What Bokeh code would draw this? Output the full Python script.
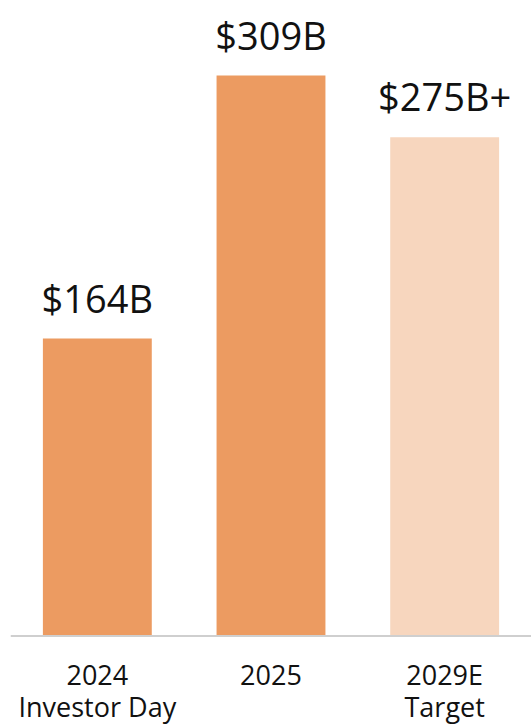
from bokeh.plotting import figure
from bokeh.models import ColumnDataSource, FactorRange, Range1d, Span
from bokeh.core.properties import value
from bokeh.embed import file_html
from bokeh.resources import INLINE

categories = ["2024 Investor Day", "2025", "2029E Target"]
tick_line1 = ["2024", "2025", "2029E"]
tick_line2 = ["Investor Day", "", "Target"]
values = [164, 309, 275]
labels = ["$164B", "$309B", "$275B+"]
colors = ["#EC9B61", "#EC9B61", "#F7D6BE"]

src = ColumnDataSource(dict(x=categories, top=values, label=labels, color=colors,
                            l1=tick_line1, l2=tick_line2, zero=[0] * len(values)))

p = figure(x_range=FactorRange(*categories, range_padding=0),
           y_range=Range1d(-48.8, 346),
           width=531, height=724, output_backend="svg", toolbar_location=None,
           min_border_left=10, min_border_right=0, min_border_top=8, min_border_bottom=0)

p.vbar(x="x", top="top", width=0.627, color="color", line_color=None, source=src)
p.text(x="x", y="top", text="label", source=src, text_align="center",
       text_baseline="alphabetic", y_offset=-41, text_font=value("Open Sans"),
       text_font_size="38px", text_color="#111111")

# category labels below the baseline
p.text(x="x", y="zero", text="l1", source=src, text_align="center",
       text_baseline="alphabetic", y_offset=39, text_font=value("Open Sans"),
       text_font_size="27px", text_color="#111111")
p.text(x="x", y="zero", text="l2", source=src, text_align="center",
       text_baseline="alphabetic", y_offset=71, text_font=value("Open Sans"),
       text_font_size="27px", text_color="#111111")

p.add_layout(Span(location=0, dimension="width", line_color="#CFCFCF", line_width=2))

p.xaxis.visible = False
p.yaxis.visible = False
p.grid.visible = False
p.outline_line_color = None
p.background_fill_color = "white"
p.border_fill_color = "white"

open("out.html", "w").write(file_html(p, INLINE))
